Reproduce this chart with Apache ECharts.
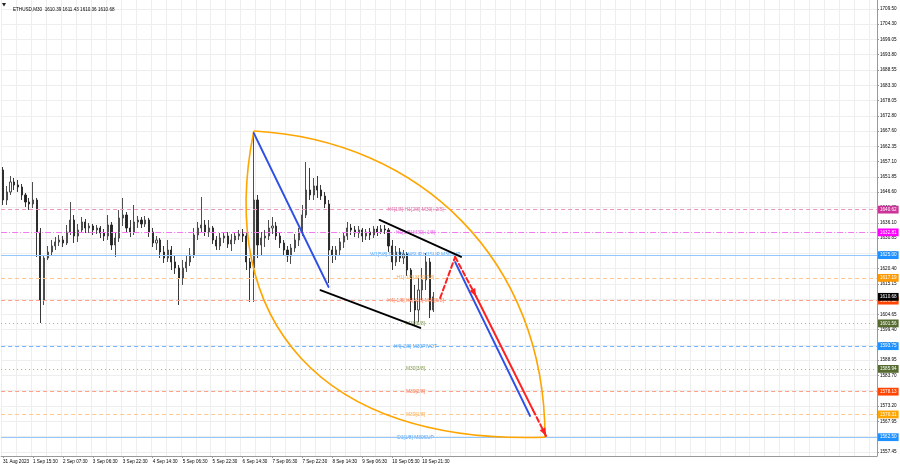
<!DOCTYPE html>
<html><head><meta charset="utf-8">
<script src="https://cdn.jsdelivr.net/npm/echarts@6/dist/echarts.min.js"></script>
<style>html,body{margin:0;padding:0;background:#fff}#c{width:900px;height:468px}</style>
</head><body><div id="c"></div>
<script>
// ---------- DATA ----------
const symbolInfo = 'ETHUSD,M30  1610.39 1611.43 1610.36 1610.68';
const timeLabels = ['31 Aug 2023','1 Sep 15:30','2 Sep 07:30','3 Sep 06:30','3 Sep 22:30','4 Sep 14:30','5 Sep 06:30','5 Sep 22:30','6 Sep 14:30','7 Sep 06:30','7 Sep 22:30','8 Sep 14:30','9 Sep 06:30','10 Sep 05:30','10 Sep 21:30'];
const labelEvery = 8;      // one time label every 8 two-hour slots
const totalSlots = 234;    // bars + empty chart shift area
const yTicks = ['1709.50','1704.30','1699.05','1693.80','1688.55','1683.30','1678.05','1672.80','1667.60','1662.35','1657.10','1651.85','1646.60','1641.35','1636.10','1630.85','1625.65','1620.40','1615.15','1609.90','1604.65','1599.40','1594.15','1588.95','1583.70','1578.45','1573.20','1567.95','1562.70','1557.45'];
const yMin = 1556.04, yMax = 1712.59;
// [open, close, low, high]
const candles = [
[1654.23,1643.93,1642.21,1655.26],[1643.93,1646.68,1642.21,1648.74],[1646.68,1650.11,1645.65,1652.17],[1650.11,1649.08,1647.36,1651.48],
[1649.08,1648.39,1646.68,1650.80],[1648.39,1645.65,1643.93,1649.42],[1645.65,1643.24,1641.53,1646.33],[1643.24,1642.56,1640.50,1644.62],
[1642.56,1643.93,1641.18,1650.11],[1643.93,1632.94,1624.36,1644.62],[1632.94,1609.60,1601.70,1634.32],[1609.60,1624.02,1607.88,1625.05],
[1624.02,1626.08,1623.33,1628.14],[1626.08,1628.14,1624.71,1630.20],[1628.14,1629.51,1626.76,1631.23],[1629.51,1630.20,1628.14,1631.91],
[1630.20,1629.17,1627.79,1631.57],[1629.17,1632.94,1628.48,1635.35],[1632.94,1637.06,1631.91,1643.24],[1637.06,1631.57,1629.17,1638.78],
[1631.57,1633.63,1629.51,1635.69],[1633.63,1636.38,1632.94,1638.09],[1636.38,1634.32,1632.60,1637.41],[1634.32,1635.00,1632.60,1636.03],
[1635.00,1633.63,1631.91,1635.69],[1633.63,1634.32,1632.26,1635.35],[1634.32,1632.60,1630.88,1635.00],[1632.60,1631.57,1629.85,1633.97],
[1631.57,1635.35,1630.20,1638.78],[1635.35,1628.48,1626.76,1636.38],[1628.48,1630.88,1624.36,1632.60],[1630.88,1637.75,1629.51,1640.50],
[1637.75,1638.78,1635.00,1644.62],[1638.78,1634.32,1632.94,1639.81],[1634.32,1632.94,1631.23,1637.06],[1632.94,1636.38,1631.91,1642.21],
[1636.38,1637.06,1634.32,1638.44],[1637.06,1635.69,1634.32,1638.09],[1635.69,1637.06,1634.66,1638.44],[1637.06,1632.94,1631.23,1637.75],
[1632.94,1629.17,1627.79,1634.32],[1629.17,1630.20,1626.76,1631.57],[1630.20,1626.08,1624.02,1630.88],[1626.08,1624.02,1622.30,1628.14],
[1624.02,1626.76,1622.65,1630.20],[1626.76,1622.65,1619.90,1628.14],[1622.65,1620.59,1618.53,1625.05],[1620.59,1617.15,1607.88,1621.62],
[1617.15,1620.59,1614.75,1623.33],[1620.59,1622.65,1619.21,1624.71],[1622.65,1625.05,1621.27,1627.45],[1625.05,1631.91,1624.02,1634.32],
[1631.91,1634.32,1630.20,1636.38],[1634.32,1635.35,1632.60,1644.96],[1635.35,1632.94,1631.57,1637.06],[1632.94,1634.32,1631.23,1637.06],
[1634.32,1630.20,1628.82,1635.00],[1630.20,1628.14,1626.76,1631.57],[1628.14,1630.88,1626.76,1632.60],[1630.88,1631.57,1629.17,1632.94],
[1631.57,1628.82,1627.45,1632.94],[1628.82,1630.20,1626.42,1632.26],[1630.20,1631.57,1628.82,1632.94],[1631.57,1632.26,1630.20,1633.63],
[1632.26,1631.57,1629.51,1633.97],[1631.57,1622.65,1619.90,1632.94],[1622.65,1620.59,1608.91,1624.02],[1620.59,1643.93,1608.91,1667.62],
[1643.93,1628.48,1624.02,1645.65],[1628.48,1630.88,1624.71,1632.94],[1630.88,1631.57,1627.79,1633.63],[1631.57,1634.32,1630.20,1637.06],
[1634.32,1635.00,1632.26,1638.09],[1635.00,1631.57,1630.20,1636.38],[1631.57,1629.17,1627.45,1632.94],[1629.17,1626.76,1625.05,1630.20],
[1626.76,1624.71,1622.65,1628.14],[1624.71,1627.45,1621.96,1628.82],[1627.45,1630.20,1626.08,1632.26],[1630.20,1632.94,1628.14,1634.32],
[1632.94,1638.78,1631.57,1642.21],[1638.78,1647.36,1637.75,1656.98],[1647.36,1645.65,1643.93,1654.92],[1645.65,1648.74,1643.93,1651.48],
[1648.74,1647.36,1644.62,1652.17],[1647.36,1645.30,1643.93,1649.08],[1645.30,1642.56,1641.18,1646.68],[1642.56,1626.76,1615.44,1643.93],
[1626.76,1625.05,1622.30,1628.14],[1625.05,1626.76,1623.33,1628.14],[1626.76,1629.51,1625.05,1630.88],[1629.51,1631.57,1627.45,1632.60],
[1631.57,1634.32,1630.20,1636.38],[1634.32,1633.63,1631.91,1635.69],[1633.63,1632.60,1631.23,1635.00],[1632.60,1633.63,1630.88,1635.00],
[1633.63,1631.57,1629.51,1634.32],[1631.57,1632.94,1630.20,1633.97],[1632.94,1631.91,1630.20,1634.32],[1631.91,1633.97,1630.88,1635.00],
[1633.97,1632.94,1631.57,1635.00],[1632.94,1633.97,1632.26,1635.35],[1633.97,1633.63,1632.26,1635.35],[1633.63,1628.14,1626.08,1634.32],
[1628.14,1622.65,1619.90,1630.20],[1622.65,1626.08,1621.27,1628.14],[1626.08,1624.02,1622.65,1627.45],[1624.02,1625.39,1621.96,1626.76],
[1625.39,1619.90,1617.84,1626.08],[1619.90,1609.60,1605.48,1620.59],[1609.60,1606.17,1601.02,1614.75],[1606.17,1613.03,1602.05,1617.15],
[1613.03,1616.47,1609.60,1620.59],[1616.47,1622.65,1613.03,1625.74],[1622.65,1606.17,1603.42,1624.02],[1606.17,1610.68,1605.48,1612.35]
];
const lastPrice = 1610.68;
const levelValues = [1640.62,1632.81,1625.00,1617.19,1609.38,1601.56,1593.75,1585.94,1578.13,1570.31,1562.50];
const levelTexts = ['H4[1/8] H1[2/8] M30[+2/8]','H1[1/8] M30[+1/8]','W1[5/8] D1[2/8] H4SUP H1SUP M30SUP','H1[-1/8] M30[7/8]','H4[-1/8] H1[-2/8] M30[6/8]','M30[5/8]','H4[-2/8] M30PIVOT','M30[3/8]','M30[2/8]','M30[1/8]','D1[1/8] M30SUP'];
const levelTextBar = 110.2;
// drawing anchors: [bar index, price]
const fanTop = [67.0, 1667.6];
const fanBottom = [144.8, 1562.5];
const fanLeftCtrl = [[56.8, 1602.7],[84.8, 1559.8]];
const fanRightCtrl = [[111.5, 1664.5],[144.8, 1623.3]];
const trendDown = [[67.0, 1666.9],[86.97, 1614.1]];
const channelUpper = [[100.6, 1637.1],[122.4, 1624.4]];
const channelLower = [[84.8, 1613.0],[111.5, 1600.0]];
const forecastUp = [[116.8, 1610.3],[120.8, 1624.4],[126.4, 1610.8]];
const forecastMain = [[126.4, 1610.8],[141.6, 1571.8]];
const forecastTail = [[141.6, 1571.8],[145.1, 1562.9]];
const forecastBlue = [[120.8, 1622.6],[140.8, 1569.8]];

// ---------- STYLES ----------
const FONT = 'Liberation Sans, Arial, sans-serif';
const FS = 4.6;
const levelLineColors = ['#eb94c4','#f07af0','#92c8ff','#ffc58a','#ffa088','#9db56e','#72b6ff','#9db56e','#ffa088','#ffc98c','#92c8ff'];
const levelTextColors = ['#d9509a','#e040e0','#1e90ff','#f0932a','#ff5a28','#5f7f20','#1e90ff','#5f7f20','#ff5a28','#f59a2a','#1e90ff'];
const tagColors   = ['#cc3399','#ff00ff','#1e90ff','#ff9900','#ff4500','#556b2f','#1e90ff','#556b2f','#ff4500','#ffa500','#1e90ff'];
const levelDash   = [[4,3],[6,2,1,2],'solid',[4,3],[4,3],[1,3],[4,3],[1,3],[4,3],[4,3],'solid'];

const categories = Array.from({length: totalSlots}, (_, i) => String(i));
const yTickValues = yTicks.map(Number);

const chart = echarts.init(document.getElementById('c'), null, {renderer: 'canvas'});

function renderDrawings(params, api) {
  const P = p => api.coord(p);
  const ch = [];
  const seg = (a, b, color, w, dash) => {
    const pa = P(a), pb = P(b);
    ch.push({type: 'line', shape: {x1: pa[0], y1: pa[1], x2: pb[0], y2: pb[1]},
      style: {stroke: color, lineWidth: w, lineDash: dash || null, lineCap: 'round'}});
  };
  const arrow = (a, b, color) => {
    const pa = P(a), pb = P(b);
    const dx = pb[0] - pa[0], dy = pb[1] - pa[1], L = Math.hypot(dx, dy);
    const ux = dx / L, uy = dy / L, len = 8, hw = 3.2;
    const bx = pb[0] - ux * len, by = pb[1] - uy * len;
    ch.push({type: 'polygon', shape: {points: [[pb[0], pb[1]], [bx - uy * hw, by + ux * hw], [bx + uy * hw, by - ux * hw]]},
      style: {fill: color}});
  };
  const curve = (a, c1, c2, b, color) => {
    const pa = P(a), p1 = P(c1), p2 = P(c2), pb = P(b);
    ch.push({type: 'bezierCurve', shape: {x1: pa[0], y1: pa[1], cpx1: p1[0], cpy1: p1[1], cpx2: p2[0], cpy2: p2[1], x2: pb[0], y2: pb[1]},
      style: {stroke: color, lineWidth: 1.6, fill: null}});
  };
  curve(fanTop, fanLeftCtrl[0], fanLeftCtrl[1], fanBottom, '#ffa500');
  curve(fanTop, fanRightCtrl[0], fanRightCtrl[1], fanBottom, '#ffa500');
  seg(trendDown[0], trendDown[1], '#2f50e6', 2);
  seg(channelUpper[0], channelUpper[1], '#000', 1.8);
  seg(channelLower[0], channelLower[1], '#000', 1.8);
  seg(forecastBlue[0], forecastBlue[1], '#2f50e6', 2);
  seg(forecastUp[0], forecastUp[1], '#ff2020', 2, [5, 3]);
  seg(forecastUp[1], forecastUp[2], '#ff2020', 2, [5, 3]);
  arrow(forecastUp[1], forecastUp[2], '#ff2020');
  seg(forecastMain[0], forecastMain[1], '#ff2020', 2);
  seg(forecastTail[0], forecastTail[1], '#ff2020', 2, [5, 3]);
  arrow(forecastTail[0], forecastTail[1], '#ff2020');
  return {type: 'group', children: ch};
}

const tagLabel = (v, bg) => ({show: true, position: 'end', distance: 1, formatter: v.toFixed(2), backgroundColor: bg,
  color: '#fff', fontSize: FS, fontFamily: FONT, padding: [1.6, 2, 1.2, 2], opacity: 1});
const levelMarks = levelValues.map((v, k) => ({
  yAxis: v,
  lineStyle: {color: levelLineColors[k], type: levelDash[k], width: 1, opacity: 1},
  label: tagLabel(v, tagColors[k])
}));
levelMarks.push({
  yAxis: lastPrice,
  lineStyle: {color: 'rgba(0,0,0,0)', width: 1, opacity: 1},
  label: tagLabel(lastPrice, '#000')
});

const option = {
  animation: false,
  backgroundColor: '#fff',
  title: {text: symbolInfo, left: 8, top: 2, textStyle: {fontSize: FS, fontWeight: 'normal', color: '#000', fontFamily: FONT}},
  graphic: [{type: 'polygon', shape: {points: [[2, 3], [6, 3], [4, 6.5]]}, style: {fill: '#222'}}],
  grid: {left: 0, right: 23, top: 0, bottom: 12, containLabel: false},
  xAxis: [{
    type: 'category', data: categories, boundaryGap: true,
    axisLine: {show: true, onZero: false, lineStyle: {color: '#999', width: 1}},
    axisTick: {show: true, length: 2, alignWithLabel: true, interval: i => i % labelEvery === 0 && i / labelEvery < timeLabels.length, lineStyle: {color: '#999'}},
    axisLabel: {interval: 0, align: 'left', margin: 3, fontSize: FS, color: '#000', fontFamily: FONT,
      formatter: (v, i) => (i % labelEvery === 0 && i / labelEvery < timeLabels.length) ? timeLabels[i / labelEvery] : ''},
    splitLine: {show: true, interval: i => i % 4 === 0, lineStyle: {color: '#eeeeee', width: 1}}
  }, {
    type: 'value', min: -0.5, max: totalSlots - 0.5, show: false,
    axisLine: {show: false, onZero: false}, axisTick: {show: false}, axisLabel: {show: false}, splitLine: {show: false}
  }],
  yAxis: {
    type: 'value', position: 'right', min: yMin, max: yMax, scale: true,
    axisLine: {show: true, onZero: false, lineStyle: {color: '#999', width: 1}},
    axisTick: {show: true, length: 2, customValues: yTickValues, lineStyle: {color: '#999'}},
    axisLabel: {show: true, customValues: yTickValues, margin: 3, fontSize: FS, color: '#000', fontFamily: FONT,
      formatter: v => { const k = yTickValues.indexOf(v); return k >= 0 ? yTicks[k] : v.toFixed(2); }},
    splitLine: {show: true, lineStyle: {color: '#eeeeee', width: 1}}
  },
  series: [{
    type: 'candlestick', xAxisIndex: 0, yAxisIndex: 0, data: candles, barWidth: 1.6, clip: false,
    itemStyle: {color: '#ffffff', color0: '#222', borderColor: '#3a3a3a', borderColor0: '#222', borderWidth: 0.9},
    markLine: {symbol: ['none', 'none'], silent: true, animation: false, data: levelMarks}
  }, {
    type: 'scatter', xAxisIndex: 1, yAxisIndex: 0, symbolSize: 0, silent: true,
    data: levelValues.map((v, k) => ({value: [levelTextBar, v], name: levelTexts[k],
      label: {color: levelTextColors[k]}})),
    label: {show: true, position: 'inside', formatter: p => p.name, fontSize: 4.9, fontFamily: FONT}
  }, {
    type: 'custom', xAxisIndex: 1, yAxisIndex: 0, data: [[0, 1600]], renderItem: renderDrawings, silent: true, clip: false, z: 5
  }]
};
chart.setOption(option);
</script>
</body></html>
